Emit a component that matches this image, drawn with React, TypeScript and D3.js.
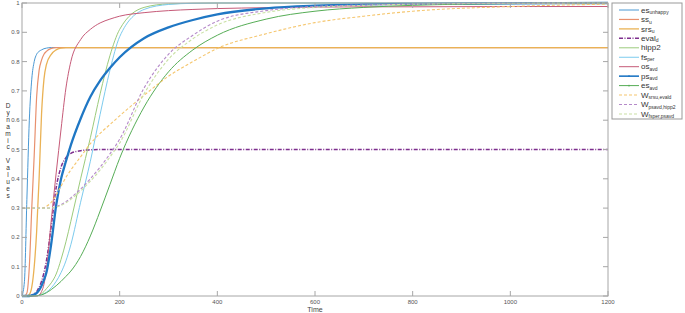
import * as d3 from 'd3';

// time grid (shared by all series)
const time = [0, 5, 10, 15, 20, 25, 30, 35, 40, 45, 50, 60, 70, 80, 90, 100, 120, 140, 160, 180, 200, 250, 300, 350, 400, 500, 600, 700, 800, 1000, 1200];

// series values
const esUnhappy = [0, 0.05, 0.33, 0.6, 0.74, 0.8, 0.825, 0.835, 0.84, 0.844, 0.846, 0.848, 0.848, 0.848, 0.848, 0.848, 0.848, 0.848, 0.848, 0.848, 0.848, 0.848, 0.848, 0.848, 0.848, 0.848, 0.848, 0.848, 0.848, 0.848, 0.848];
const ssU = [0, 0, 0.01, 0.1, 0.3, 0.48, 0.68, 0.77, 0.805, 0.825, 0.835, 0.845, 0.848, 0.848, 0.848, 0.848, 0.848, 0.848, 0.848, 0.848, 0.848, 0.848, 0.848, 0.848, 0.848, 0.848, 0.848, 0.848, 0.848, 0.848, 0.848];
const srsU = [0, 0, 0, 0.005, 0.03, 0.1, 0.22, 0.4, 0.62, 0.74, 0.79, 0.825, 0.84, 0.846, 0.848, 0.848, 0.848, 0.848, 0.848, 0.848, 0.848, 0.848, 0.848, 0.848, 0.848, 0.848, 0.848, 0.848, 0.848, 0.848, 0.848];
const evalD = [0, 0, 0, 0, 0.003, 0.008, 0.015, 0.03, 0.05, 0.08, 0.12, 0.24, 0.37, 0.44, 0.472, 0.487, 0.496, 0.499, 0.5, 0.5, 0.5, 0.5, 0.5, 0.5, 0.5, 0.5, 0.5, 0.5, 0.5, 0.5, 0.5];
const hipp2 = [0, 0, 0, 0, 0, 0, 0, 0.003, 0.008, 0.015, 0.025, 0.045, 0.075, 0.125, 0.185, 0.255, 0.4, 0.54, 0.69, 0.82, 0.91, 0.985, 0.997, 0.999, 1, 1, 1, 1, 1, 1, 1];
const fsPer = [0, 0, 0, 0, 0, 0, 0, 0.002, 0.004, 0.008, 0.013, 0.028, 0.05, 0.08, 0.12, 0.175, 0.32, 0.46, 0.62, 0.77, 0.885, 0.978, 0.995, 0.999, 1, 1, 1, 1, 1, 1, 1];
const osAvd = [0, 0, 0, 0, 0, 0, 0, 0.003, 0.015, 0.04, 0.09, 0.26, 0.42, 0.57, 0.71, 0.8, 0.875, 0.91, 0.932, 0.945, 0.955, 0.967, 0.974, 0.978, 0.981, 0.984, 0.986, 0.987, 0.987, 0.988, 0.988];
const psAvd = [0, 0, 0, 0, 0.002, 0.005, 0.01, 0.02, 0.035, 0.055, 0.08, 0.18, 0.31, 0.4, 0.46, 0.515, 0.605, 0.68, 0.735, 0.778, 0.815, 0.88, 0.917, 0.942, 0.961, 0.982, 0.991, 0.995, 0.997, 0.999, 1];
const esAvd = [0, 0, 0, 0, 0, 0, 0.001, 0.002, 0.004, 0.007, 0.011, 0.022, 0.035, 0.05, 0.067, 0.085, 0.135, 0.205, 0.29, 0.38, 0.47, 0.645, 0.765, 0.84, 0.89, 0.945, 0.972, 0.985, 0.992, 0.998, 1];
const wSrsEval = [0.3, 0.3, 0.3, 0.3, 0.3, 0.3, 0.3, 0.3, 0.3, 0.302, 0.306, 0.32, 0.345, 0.375, 0.405, 0.43, 0.475, 0.52, 0.555, 0.585, 0.615, 0.685, 0.75, 0.8, 0.845, 0.895, 0.933, 0.955, 0.972, 0.988, 0.996];
const wPsHipp = [0.3, 0.3, 0.3, 0.3, 0.3, 0.3, 0.3, 0.3, 0.3, 0.3, 0.3, 0.301, 0.305, 0.312, 0.322, 0.335, 0.365, 0.4, 0.44, 0.485, 0.535, 0.71, 0.825, 0.89, 0.938, 0.974, 0.988, 0.993, 0.996, 0.999, 1];
const wFsPsavd = [0.3, 0.3, 0.3, 0.3, 0.3, 0.3, 0.3, 0.3, 0.3, 0.3, 0.3, 0.3, 0.303, 0.309, 0.318, 0.33, 0.358, 0.392, 0.43, 0.474, 0.522, 0.69, 0.808, 0.878, 0.925, 0.968, 0.985, 0.992, 0.996, 0.999, 1];

// legend labels
const labelBase = ['es', 'ss', 'srs', 'eval', 'hipp2', 'fs', 'os', 'ps', 'es', 'W', 'W', 'W'];
const labelSub = ['unhappy', 'u', 'u', 'd', '', 'per', 'avd', 'avd', 'avd', 'srsu,evald', 'psavd,hipp2', 'fsper,psavd'];

// axis ticks
const xTicks = [0, 200, 400, 600, 800, 1000, 1200];
const yTicks = [0, 0.1, 0.2, 0.3, 0.4, 0.5, 0.6, 0.7, 0.8, 0.9, 1];
const yLabel = 'Dynamic Values';

const allValues = [esUnhappy, ssU, srsU, evalD, hipp2, fsPer, osAvd, psAvd, esAvd, wSrsEval, wPsHipp, wFsPsavd];

const styles = [
  { color: '#4a98d3', width: 1, dash: '' },
  { color: '#e8906e', width: 1.2, dash: '' },
  { color: '#eab255', width: 1.3, dash: '' },
  { color: '#7e2f8e', width: 1.5, dash: '4,1.5,1,1.5' },
  { color: '#9ccb7c', width: 1, dash: '' },
  { color: '#7ccbee', width: 1, dash: '' },
  { color: '#c65a78', width: 1, dash: '' },
  { color: '#1f77c4', width: 2.3, dash: '' },
  { color: '#56ad56', width: 1, dash: '' },
  { color: '#f5c66e', width: 1.1, dash: '3,2' },
  { color: '#b58ac9', width: 1.1, dash: '3,2' },
  { color: '#c9e0a4', width: 1.1, dash: '3,2' },
];

const axisColor = '#a6a6a6';
const textColor = '#555';
const font = "'Liberation Sans', Arial, sans-serif";

export default function App() {
  const left = 22;
  const right = 608;
  const top = 3;
  const bottom = 296;

  const x = d3.scaleLinear().domain([0, 1200]).range([left, right]);
  const y = d3.scaleLinear().domain([0, 1]).range([bottom, top]);

  const lineGen = d3
    .line<number>()
    .x((_, i) => x(time[i]))
    .y((d) => y(d))
    .curve(d3.curveMonotoneX);

  const legendX = 612;
  const legendY = 3;
  const rowH = 9.45;

  return (
    <svg
      width={685}
      height={313}
      style={{ position: 'absolute', left: 0, top: 0, background: '#fff' }}
      fontFamily={font}
    >
      {/* series */}
      {allValues.map((vals, i) => (
        <path
          key={i}
          d={lineGen(vals) || ''}
          fill="none"
          stroke={styles[i].color}
          strokeWidth={styles[i].width}
          strokeDasharray={styles[i].dash || undefined}
        />
      ))}

      {/* axes box */}
      <rect x={left} y={top} width={right - left} height={bottom - top} fill="none" stroke={axisColor} strokeWidth={1} />

      {xTicks.map((t) => (
        <g key={'x' + t}>
          <line x1={x(t)} x2={x(t)} y1={bottom} y2={bottom - 5} stroke={axisColor} />
          <line x1={x(t)} x2={x(t)} y1={top} y2={top + 5} stroke={axisColor} />
          <text x={x(t)} y={304} fontSize={6} fill={textColor} textAnchor="middle">
            {t}
          </text>
        </g>
      ))}

      {yTicks.map((t) => (
        <g key={'y' + t}>
          <line x1={left} x2={left + 5} y1={y(t)} y2={y(t)} stroke={axisColor} />
          <line x1={right} x2={right - 5} y1={y(t)} y2={y(t)} stroke={axisColor} />
          <text x={19.5} y={y(t) + 2} fontSize={6} fill={textColor} textAnchor="end">
            {t}
          </text>
        </g>
      ))}

      <text x={(left + right) / 2} y={311.5} fontSize={7} fill="#444" textAnchor="middle">
        Time
      </text>

      {yLabel.split('').map((c, i) => (
        <text key={'yl' + i} x={8} y={108 + i * 6.9} fontSize={6.5} fill="#333" textAnchor="middle">
          {c}
        </text>
      ))}

      {/* legend */}
      <rect x={legendX} y={legendY} width={70} height={116} fill="#fff" stroke="#999" strokeWidth={1} />
      {labelBase.map((b, i) => {
        const ly = legendY + 7 + i * rowH;
        const st = styles[i];
        return (
          <g key={'lg' + i}>
            <line
              x1={legendX + 7}
              x2={legendX + 27}
              y1={ly}
              y2={ly}
              stroke={st.color}
              strokeWidth={Math.min(st.width, 1.6)}
              strokeDasharray={st.dash || undefined}
            />
            {(i === 7 || i === 8) && <circle cx={legendX + 17} cy={ly} r={0.9} fill={st.color} />}
            <text x={legendX + 29} y={ly + 2.6} fontSize={8} fill="#333">
              {b}
              {labelSub[i] && (
                <tspan fontSize={5} dy={1.5}>
                  {labelSub[i]}
                </tspan>
              )}
            </text>
          </g>
        );
      })}
    </svg>
  );
}
